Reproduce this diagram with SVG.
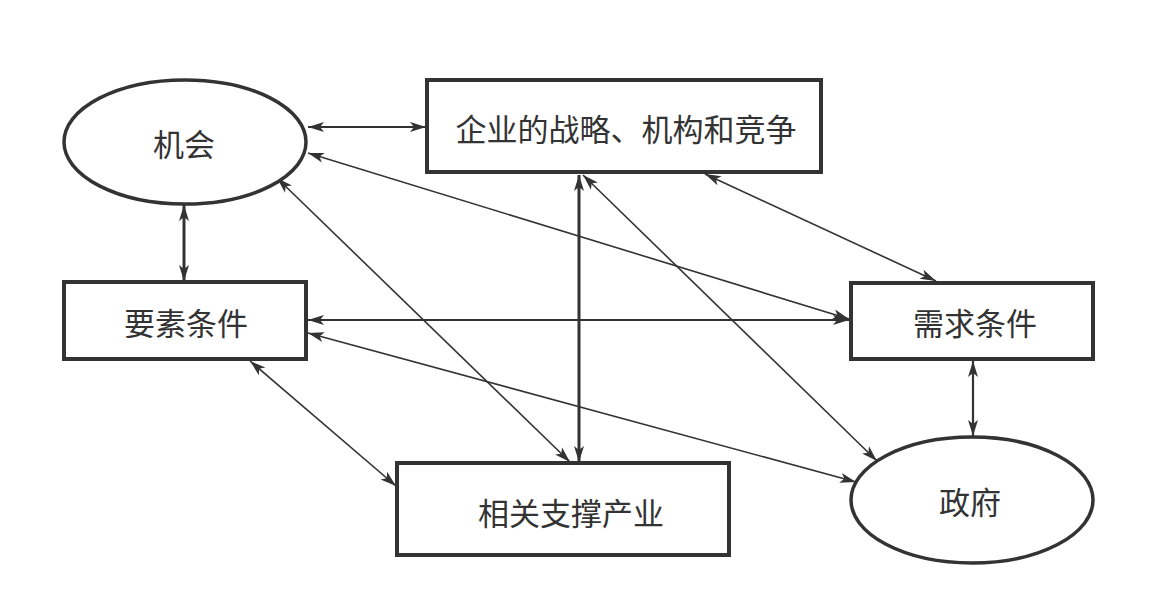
<svg xmlns="http://www.w3.org/2000/svg" width="1155" height="595" viewBox="0 0 1155 595">
<style>
.box{fill:#fff;stroke:#333;stroke-width:4}
.ell{fill:#fff;stroke:#333;stroke-width:3.5}
.lbl{font-family:"Noto Sans CJK SC","Noto Sans CJK JP",sans-serif;font-size:31px;fill:#333;text-anchor:middle;dominant-baseline:central}
.c{stroke:#333;stroke-width:1.6;fill:none;marker-start:url(#ah);marker-end:url(#ah)}
.t2{stroke-width:2.2}
.t3{stroke-width:3}
</style>
<defs>
<marker id="ah" markerUnits="userSpaceOnUse" markerWidth="18" markerHeight="12" refX="16" refY="5" orient="auto-start-reverse" overflow="visible">
<path d="M0,0 L16,5 L0,10 L4,5 Z" fill="#333"/>
</marker>
</defs>
<rect width="1155" height="595" fill="#fff"/>
<g id="connectors">
<line class="c t2" x1="308" y1="127" x2="426" y2="127"/>
<line class="c t3" x1="184" y1="205" x2="184" y2="281"/>
<line class="c t3" x1="579" y1="175" x2="579" y2="462"/>
<line class="c t2" x1="308" y1="320" x2="849" y2="320"/>
<line class="c t2" x1="973" y1="361" x2="973" y2="436"/>
<line class="c" x1="308" y1="153" x2="849" y2="319"/>
<line class="c" x1="277" y1="178" x2="570" y2="462"/>
<line class="c" x1="583" y1="175" x2="877" y2="461"/>
<line class="c" x1="705" y1="174" x2="936" y2="281"/>
<line class="c" x1="308" y1="333" x2="856" y2="482"/>
<line class="c" x1="250" y1="361" x2="396" y2="486"/>
</g>
<g id="jihui">
<ellipse class="ell" cx="185" cy="142" rx="121" ry="62"/>
<text class="lbl" x="184" y="142">机会</text>
</g>
<g id="qiye">
<rect class="box" x="427" y="80" width="394" height="92"/>
<text class="lbl" x="626" y="127">企业的战略、机构和竞争</text>
</g>
<g id="yaosu">
<rect class="box" x="64" y="282" width="242" height="77"/>
<text class="lbl" x="186" y="321">要素条件</text>
</g>
<g id="xuqiu">
<rect class="box" x="851" y="283" width="242" height="76"/>
<text class="lbl" x="975" y="321">需求条件</text>
</g>
<g id="xiangguan">
<rect class="box" x="397" y="463" width="332" height="92"/>
<text class="lbl" x="571" y="511">相关支撑产业</text>
</g>
<g id="zhengfu">
<ellipse class="ell" cx="972" cy="500" rx="121" ry="63"/>
<text class="lbl" x="970" y="500">政府</text>
</g>
</svg>
